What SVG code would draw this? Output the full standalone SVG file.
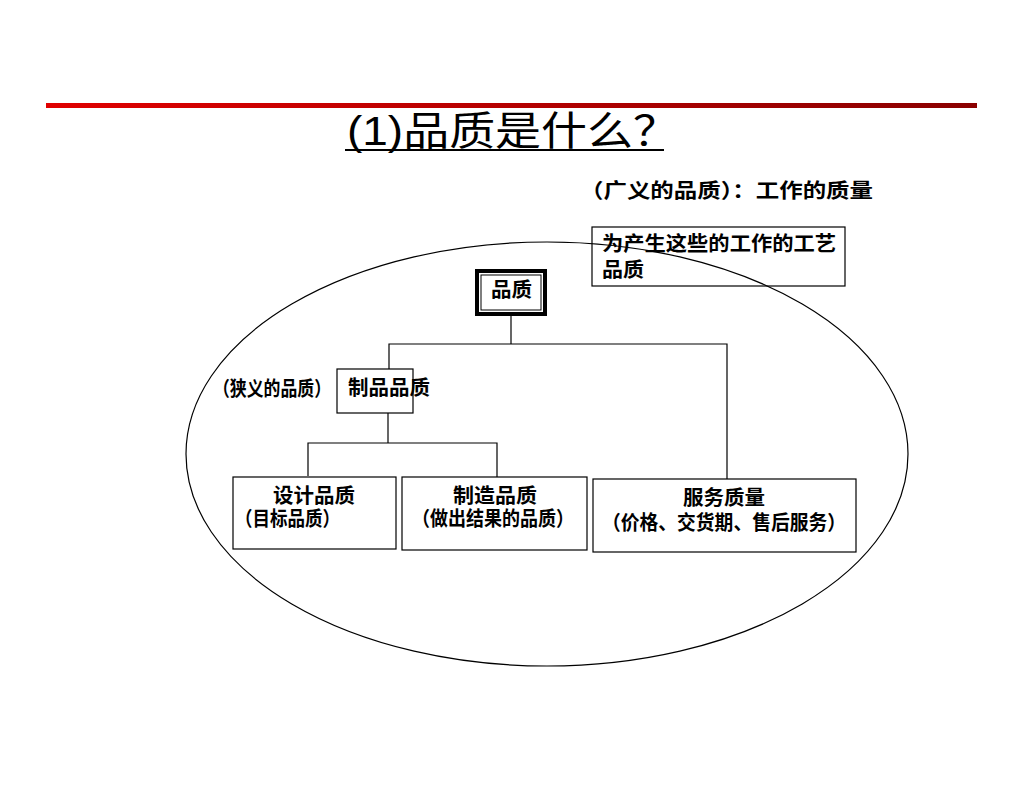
<svg xmlns="http://www.w3.org/2000/svg" width="1024" height="791" viewBox="0 0 1024 791">
<defs>
<linearGradient id="bar" x1="0" y1="0" x2="1" y2="0">
<stop offset="0" stop-color="#e00000"/>
<stop offset="1" stop-color="#8a0000"/>
</linearGradient>
</defs>
<style>
text{font-family:"Liberation Sans","Noto Sans CJK SC",sans-serif;fill:#000}
.b{font-weight:bold;font-size:20px}
.box{fill:#fff;stroke:#000;stroke-width:1.2}
.ln{fill:none;stroke:#000;stroke-width:1.2}
</style>
<rect width="1024" height="791" fill="#fff"/>
<rect x="46" y="103" width="931" height="5" fill="url(#bar)"/>
<g id="title">
<text x="347" y="145" font-size="40" textLength="332" lengthAdjust="spacingAndGlyphs">(1)品质是什么？</text>
<line x1="345" y1="150" x2="664" y2="150" stroke="#000" stroke-width="2"/>
</g>
<text x="580" y="198" class="b" textLength="293" lengthAdjust="spacingAndGlyphs">（广义的品质）：工作的质量</text>
<g id="craft">
<rect x="592" y="227" width="253" height="59" fill="none" stroke="#000" stroke-width="1.2"/>
<text x="602" y="251" class="b" textLength="234" lengthAdjust="spacingAndGlyphs">为产生这些的工作的工艺</text>
<text x="602" y="277" class="b" textLength="42" lengthAdjust="spacingAndGlyphs">品质</text>
</g>
<ellipse cx="547" cy="454" rx="361" ry="212" fill="none" stroke="#000" stroke-width="1.2"/>
<g id="connectors">
<polyline class="ln" points="511,316 511,344"/>
<polyline class="ln" points="389,372 389,344 727,344 727,479"/>
<polyline class="ln" points="388,413 388,443"/>
<polyline class="ln" points="308,476 308,443 497,443 497,477"/>
</g>
<g id="quality">
<rect x="477" y="271" width="68" height="43" fill="#fff" stroke="#000" stroke-width="4"/>
<rect x="481" y="275" width="60" height="35" fill="none" stroke="#000" stroke-width="1"/>
<text x="491" y="297" class="b" textLength="41" lengthAdjust="spacingAndGlyphs">品质</text>
</g>
<g id="product">
<rect class="box" x="337" y="369" width="76" height="44"/>
<text x="348" y="395" class="b" textLength="82" lengthAdjust="spacingAndGlyphs">制品品质</text>
</g>
<text x="213" y="396" class="b" textLength="118" lengthAdjust="spacingAndGlyphs">（狭义的品质）</text>
<g id="design">
<rect class="box" x="233" y="477" width="163" height="72"/>
<text x="273" y="503" class="b" textLength="82" lengthAdjust="spacingAndGlyphs">设计品质</text>
<text x="235" y="526" class="b" textLength="105" lengthAdjust="spacingAndGlyphs">（目标品质）</text>
</g>
<g id="manufacture">
<rect class="box" x="402" y="477" width="185" height="73"/>
<text x="453" y="503" class="b" textLength="84" lengthAdjust="spacingAndGlyphs">制造品质</text>
<text x="412" y="526" class="b" textLength="162" lengthAdjust="spacingAndGlyphs">（做出结果的品质）</text>
</g>
<g id="service">
<rect class="box" x="593" y="479" width="263" height="73"/>
<text x="683" y="505" class="b" textLength="82" lengthAdjust="spacingAndGlyphs">服务质量</text>
<text x="602" y="530" class="b" textLength="244" lengthAdjust="spacingAndGlyphs">（价格、交货期、售后服务）</text>
</g>
</svg>
